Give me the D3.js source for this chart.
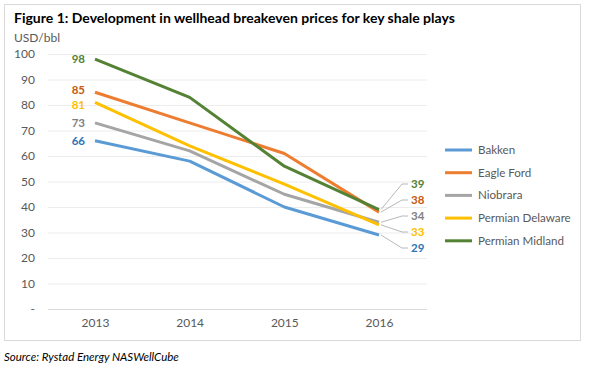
<!DOCTYPE html>
<html>
<head>
<meta charset="utf-8">
<script src="https://cdn.jsdelivr.net/npm/d3@7"></script>
<style>
  body { margin: 0; background: #fff; }
  svg { font-family: Lato, "Liberation Sans", sans-serif; }
</style>
</head>
<body>
<svg id="chart" width="593" height="370"></svg>
<script>
// chart data
const years = ['2013', '2014', '2015', '2016'];
const seriesNames = ['Bakken', 'Eagle Ford', 'Niobrara', 'Permian Delaware', 'Permian Midland'];
const bakken = [66, 58, 40, 29];
const eagleFord = [85, 73, 61, 38];
const niobrara = [73, 62, 45, 34];
const permianDelaware = [81, 64, 49, 33];
const permianMidland = [98, 83, 56, 39];
const yTicks = [0, 10, 20, 30, 40, 50, 60, 70, 80, 90, 100];

const lineColors = ['#5B9BD5', '#ED7D31', '#A5A5A5', '#FFC000', '#548235'];
const labelColors = ['#2E75B6', '#C55A11', '#7F7F7F', '#FFC000', '#548235'];

const series = seriesNames.map((name, i) => ({
    name: name,
    values: [bakken, eagleFord, niobrara, permianDelaware, permianMidland][i],
    line: lineColors[i],
    label: labelColors[i],
}));

const svg = d3.select('#chart');

// frame
svg.append('rect')
    .attr('x', 4.5).attr('y', 4.5)
    .attr('width', 576).attr('height', 336)
    .attr('fill', 'none').attr('stroke', '#d9d9d9');

svg.append('text')
    .attr('x', 14).attr('y', 23)
    .attr('font-size', 14).attr('font-weight', 'bold')
    .attr('fill', '#000')
    .text('Figure 1: Development in wellhead breakeven prices for key shale plays');

svg.append('text')
    .attr('x', 14).attr('y', 42)
    .attr('font-size', 12).attr('fill', '#595959')
    .text('USD/bbl');

const x = d3.scalePoint().domain(years).range([95, 379]);
const y = d3.scaleLinear().domain([0, 100]).range([309, 54]);

// grid
svg.append('g')
    .selectAll('line')
    .data(yTicks)
    .join('line')
    .attr('x1', 48).attr('x2', 427)
    .attr('y1', d => y(d) + 0.5).attr('y2', d => y(d) + 0.5)
    .attr('stroke', d => d === 0 ? '#d9d9d9' : '#ececec');

const yAxis = svg.append('g')
    .attr('transform', 'translate(35,0)')
    .call(d3.axisLeft(y).tickValues(yTicks).tickSize(0).tickPadding(0)
        .tickFormat(d => d === 0 ? '-' : d));
yAxis.select('.domain').remove();
yAxis.selectAll('text')
    .attr('font-size', 12).attr('fill', '#595959')
    .attr('font-family', 'Lato, "Liberation Sans", sans-serif');

const xAxis = svg.append('g')
    .attr('transform', 'translate(0,316)')
    .call(d3.axisBottom(x).tickSize(0).tickPadding(0));
xAxis.select('.domain').remove();
xAxis.selectAll('text')
    .attr('font-size', 12).attr('fill', '#595959')
    .attr('dy', '0.9em')
    .attr('font-family', 'Lato, "Liberation Sans", sans-serif');

// lines
const lineGen = d3.line()
    .x((d, i) => x(years[i]))
    .y(d => y(d));

svg.append('g')
    .selectAll('path')
    .data(series)
    .join('path')
    .attr('fill', 'none')
    .attr('stroke', d => d.line)
    .attr('stroke-width', 3)
    .attr('stroke-linejoin', 'round')
    .attr('d', d => lineGen(d.values));

// start labels: push apart labels that sit too close together
const startOrder = series.slice().sort((a, b) => b.values[0] - a.values[0]);
const startY = startOrder.map(s => y(s.values[0]));
const minGap = 15;
for (let k = 1; k < startY.length; k++) {
    const gap = startY[k] - startY[k - 1];
    if (gap < minGap) {
        const shift = (minGap - gap) / 2;
        startY[k - 1] -= shift;
        startY[k] += shift;
    }
}
startOrder.forEach((s, k) => {
    svg.append('text')
        .attr('x', x(years[0]) - 10)
        .attr('y', startY[k])
        .attr('dy', '0.35em')
        .attr('text-anchor', 'end')
        .attr('font-size', 11.5).attr('font-weight', 'bold')
        .attr('fill', s.label)
        .text(s.values[0]);
});

// end labels with leader lines, stacked by value
const last = years.length - 1;
const endOrder = series.slice().sort((a, b) => b.values[last] - a.values[last]);
endOrder.forEach((s, k) => {
    const ly = 184 + k * 16;
    const px = x(years[last]);
    const py = y(s.values[last]);
    svg.append('path')
        .attr('d', `M${px + 2},${py} L402,${ly} L408,${ly}`)
        .attr('fill', 'none').attr('stroke', '#a6a6a6').attr('stroke-width', 0.8);
    svg.append('text')
        .attr('x', 411).attr('y', ly)
        .attr('dy', '0.35em')
        .attr('font-size', 11.5).attr('font-weight', 'bold')
        .attr('fill', s.label)
        .text(s.values[last]);
});

// legend
const legend = svg.append('g')
    .selectAll('g')
    .data(series)
    .join('g')
    .attr('transform', (d, i) => `translate(445,${150 + i * 22.7})`);
legend.append('line')
    .attr('x1', 0).attr('x2', 27)
    .attr('stroke', d => d.line).attr('stroke-width', 3);
legend.append('text')
    .attr('x', 33).attr('dy', '0.35em')
    .attr('font-size', 11.6).attr('fill', '#595959')
    .text(d => d.name);

svg.append('text')
    .attr('x', 4).attr('y', 361)
    .attr('font-size', 11.5).attr('font-style', 'italic')
    .attr('fill', '#000')
    .text('Source: Rystad Energy NASWellCube');
</script>
</body>
</html>
